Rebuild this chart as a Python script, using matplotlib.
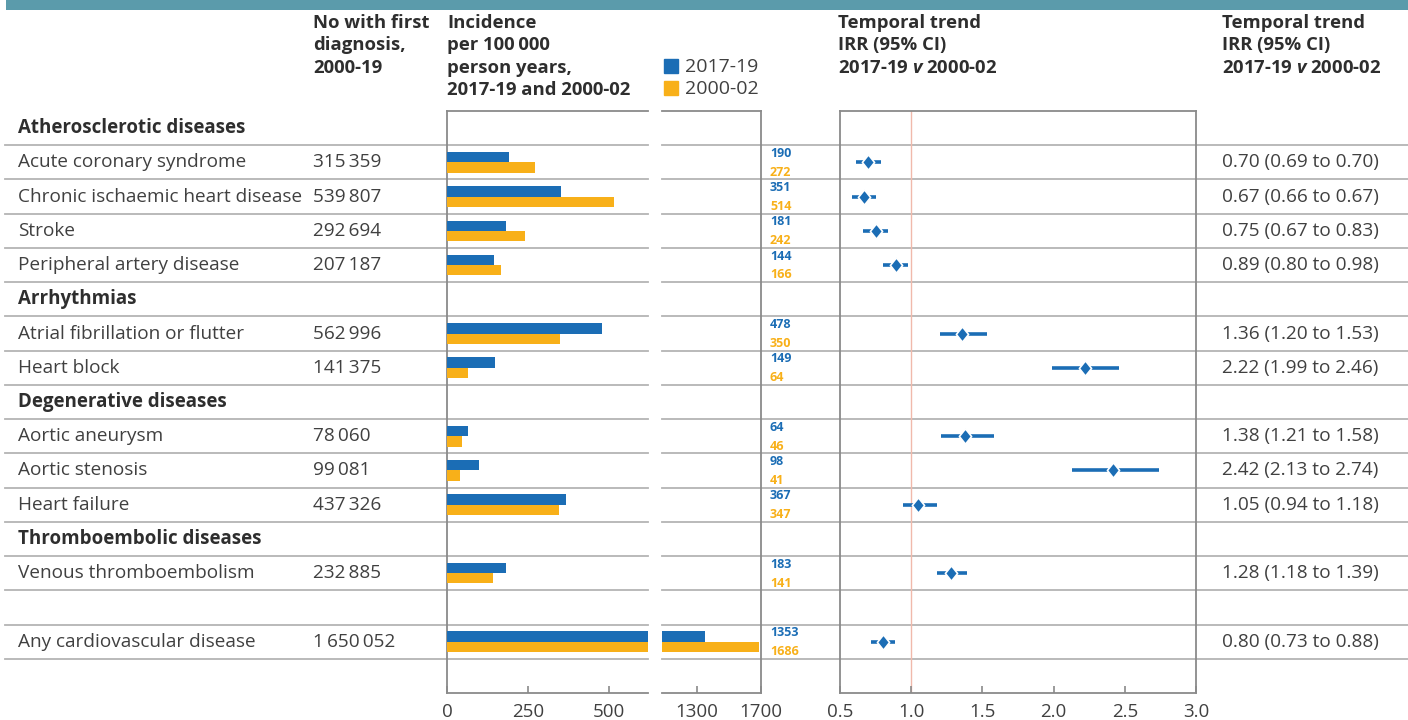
import numpy as np
import matplotlib
matplotlib.use("Agg")
import matplotlib.pyplot as plt
from matplotlib.patches import Rectangle
from matplotlib.transforms import blended_transform_factory

plt.rcParams['font.family'] = ['Open Sans', 'DejaVu Sans']
plt.rcParams['mathtext.fontset'] = 'custom'
plt.rcParams['mathtext.it'] = 'Open Sans:italic:bold'
plt.rcParams['mathtext.rm'] = 'Open Sans:bold'

# ---- data ----
groups = ["Atherosclerotic diseases", "Arrhythmias", "Degenerative diseases",
          "Thromboembolic diseases"]
group_rows = [0, 5, 8, 12]

diseases = ["Acute coronary syndrome", "Chronic ischaemic heart disease", "Stroke",
            "Peripheral artery disease", "Atrial fibrillation or flutter", "Heart block",
            "Aortic aneurysm", "Aortic stenosis", "Heart failure",
            "Venous thromboembolism", "Any cardiovascular disease"]
disease_rows = [1, 2, 3, 4, 6, 7, 9, 10, 11, 13, 15]
n_first = ["315\u2009359", "539\u2009807", "292\u2009694", "207\u2009187", "562\u2009996",
           "141\u2009375", "78\u2009060", "99\u2009081", "437\u2009326", "232\u2009885",
           "1\u2009650\u2009052"]

inc_1719 = [190, 351, 181, 144, 478, 149, 64, 98, 367, 183, 1353]
inc_0002 = [272, 514, 242, 166, 350, 64, 46, 41, 347, 141, 1686]

irr = [0.70, 0.67, 0.75, 0.89, 1.36, 2.22, 1.38, 2.42, 1.05, 1.28, 0.80]
irr_lo = [0.69, 0.66, 0.67, 0.80, 1.20, 1.99, 1.21, 2.13, 0.94, 1.18, 0.73]
irr_hi = [0.70, 0.67, 0.83, 0.98, 1.53, 2.46, 1.58, 2.74, 1.18, 1.39, 0.88]

BLUE = '#1b6db5'
ORANGE = '#f8b019'
TEXT = '#404040'
HEAD = '#2e2e2e'
LINE = '#b4b4b4'
SPINE = '#8a8a8a'
FS = 13.7

W, H = 1408, 720
fig = plt.figure(figsize=(W / 100, H / 100), dpi=100)


def rect(x0, x1, y0=111, y1=693):
    return [x0 / W, 1 - y1 / H, (x1 - x0) / W, (y1 - y0) / H]


bg = fig.add_axes([0, 0, 1, 1], zorder=-1)
bg.set_xlim(0, W)
bg.set_ylim(H, 0)
bg.axis('off')

ax1 = fig.add_axes(rect(447, 648))
ax2 = fig.add_axes(rect(662, 761))
ax3 = fig.add_axes(rect(840, 1196))
for ax in (ax1, ax2, ax3):
    ax.set_facecolor('none')
    ax.set_ylim(16.5, -0.5)
    ax.set_yticks([])
    for s in ax.spines.values():
        s.set_color(SPINE)
        s.set_linewidth(1.3)
    ax.tick_params(axis='x', direction='in', length=5, width=1.2, color=SPINE,
                   labelsize=13.5, labelcolor=TEXT, pad=7)

ax1.spines['right'].set_visible(False)
ax2.spines['left'].set_visible(False)

rows = np.array(disease_rows, dtype=float)
bh = 0.3
for ax in (ax1, ax2):
    ax.barh(rows - bh / 2, inc_1719, height=bh, color=BLUE, zorder=3)
    ax.barh(rows + bh / 2, inc_0002, height=bh, color=ORANGE, zorder=3)
ax1.set_xlim(0, 620)
ax1.set_xticks([0, 250, 500])
ax2.set_xlim(1082, 1700)
ax2.set_xticks([1300, 1700])

# forest plot
ax3.set_xlim(0.5, 3.0)
ax3.set_xticks([0.5, 1.0, 1.5, 2.0, 2.5, 3.0])
ax3.set_xticklabels(['0.5', '1.0', '1.5', '2.0', '2.5', '3.0'])
ax3.axvline(1.0, color='#f0b9ab', lw=1, zorder=1)
irr_a = np.array(irr)
lo_draw = np.minimum(irr_lo, irr_a - 0.085)
hi_draw = np.maximum(irr_hi, irr_a + 0.085)
ax3.hlines(rows, lo_draw, hi_draw, color=BLUE, lw=2.6, zorder=3)
diamond = [(0, 1), (0.8, 0), (0, -1), (-0.8, 0), (0, 1)]
ax3.plot(irr, rows, marker=diamond, color=BLUE, ms=11, mec='white', mew=1.2,
         zorder=4, ls='none')

# blended transform: x in pixels, y in row units
tr = blended_transform_factory(bg.transData, ax1.transData)

# separator lines
for b in np.arange(0.5, 16, 1.0):
    bg.plot([5, 648], [b, b], color=LINE, lw=1.3, transform=tr, zorder=0)
    bg.plot([662, W], [b, b], color=LINE, lw=1.3, transform=tr, zorder=0)

# group headers
for g, r in zip(groups, group_rows):
    bg.text(18, r, g, transform=tr, fontsize=13.5, fontweight='bold', color=HEAD,
            va='center')

# rows
for i, r in enumerate(disease_rows):
    bg.text(18, r, diseases[i], transform=tr, fontsize=FS, color=TEXT, va='center')
    bg.text(313, r, n_first[i], transform=tr, fontsize=FS, color=TEXT, va='center')
    bg.text(770, r - 0.26, str(inc_1719[i]), transform=tr, fontsize=9,
            fontweight='bold', color=BLUE, va='center')
    bg.text(770, r + 0.29, str(inc_0002[i]), transform=tr, fontsize=9,
            fontweight='bold', color=ORANGE, va='center')
    bg.text(1222, r, "%.2f (%.2f to %.2f)" % (irr[i], irr_lo[i], irr_hi[i]),
            transform=tr, fontsize=FS, color=TEXT, va='center')

# column headers
hkw = dict(fontsize=13.3, fontweight='bold', color=HEAD, va='baseline')
for j, line in enumerate(["No with first", "diagnosis,", "2000-19"]):
    bg.text(313, 28 + 22.4 * j, line, **hkw)
for j, line in enumerate(["Incidence", "per 100\u2009000", "person years,",
                          "2017-19 and 2000-02"]):
    bg.text(447, 28 + 22.4 * j, line, **hkw)
for x0 in (838, 1222):
    for j, line in enumerate(["Temporal trend", "IRR (95% CI)",
                              r"2017-19 $\mathit{v}$ 2000-02"]):
        bg.text(x0, 28 + 22.4 * j, line, **hkw)

# legend
for j, (lab, col) in enumerate([("2017-19", BLUE), ("2000-02", ORANGE)]):
    y = 72 + 22.4 * j
    bg.plot([671], [y - 6], marker='s', ms=9.5, color=col, ls='none')
    bg.text(685, y, lab, fontsize=14, color=TEXT, va='baseline')

# top band
bg.add_patch(Rectangle((6, 0), W - 6, 10, color='#5b9bab', lw=0))

fig.savefig("out.png", dpi=100)
